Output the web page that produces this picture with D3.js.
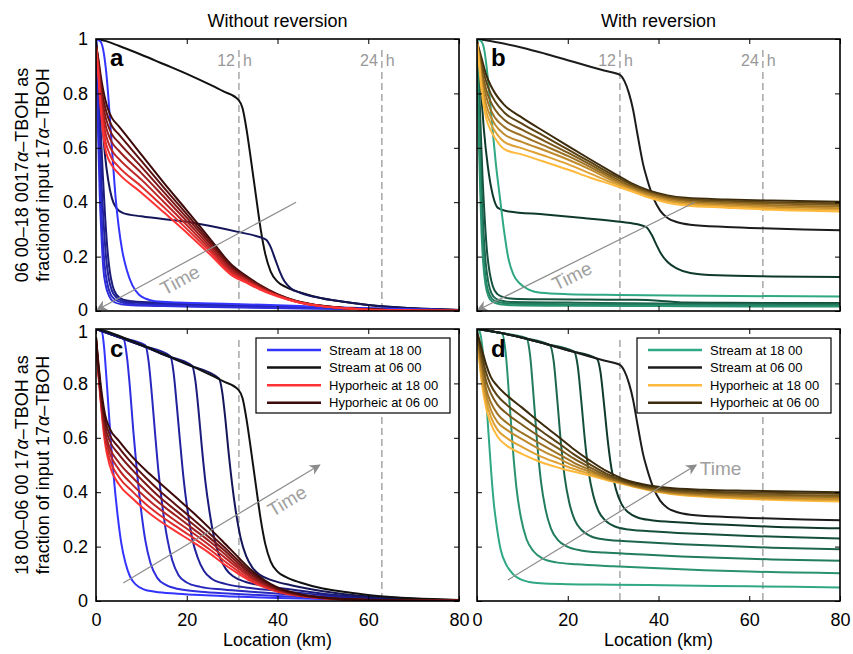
<!DOCTYPE html>
<html>
<head>
<meta charset="utf-8">
<script src="https://cdn.jsdelivr.net/npm/d3@7"></script>
<style>
  body { margin: 0; background: #fff; }
  text { font-family: "Liberation Sans", Arial, Helvetica, sans-serif; }
</style>
</head>
<body>
<svg id="chart" width="853" height="654"></svg>
<script>
const locationTicks = [0, 20, 40, 60, 80];
const fractionTicks = [0, 0.2, 0.4, 0.6, 0.8, 1];
const reversalKm = [31.5, 63];
const reversalLabels = ["12", "24"];
const columnTitles = ["Without reversion", "With reversion"];

// stream at 06 00, shared by a and c (no reversion) and b and d (with reversion)
const streamNoRev0600 = [[0,1],[2,0.993],[5,0.975],[10,0.942],[15,0.907],[20,0.872],[25,0.833],[28,0.808],[31.4,0.776],[32.3,0.745],[33.2,0.665],[34.2,0.55],[35.2,0.43],[36.3,0.3],[37.3,0.21],[38.5,0.145],[40,0.108],[42,0.087],[45,0.068],[50,0.046],[55,0.033],[60,0.022],[65,0.015],[70,0.01],[80,0.004]];
const streamRev0600 = [[0,1],[5,0.986],[10,0.968],[15,0.946],[20,0.922],[25,0.898],[28,0.884],[31.5,0.868],[32.5,0.845],[33.5,0.8],[34.4,0.74],[35.2,0.665],[35.9,0.6],[36.6,0.54],[37.4,0.49],[38.9,0.415],[40.4,0.368],[42,0.342],[44,0.327],[47,0.317],[55,0.309],[63,0.304],[72,0.3],[80,0.297]];

// panel a, ordered 06 00 -> 18 00
const streamA = [
  streamNoRev0600,
  [[0,1],[0.5,0.9],[1,0.78],[1.5,0.67],[2,0.57],[2.7,0.48],[3.5,0.415],[4.5,0.378],[6,0.36],[10,0.348],[20,0.328],[31.5,0.29],[36,0.272],[37.5,0.262],[38.5,0.235],[39.5,0.19],[40.5,0.145],[41.5,0.11],[43,0.083],[45,0.067],[50,0.046],[55,0.033],[60,0.022],[70,0.01],[80,0.004]],
  [[0,1],[0.5,0.86],[1,0.68],[1.5,0.5],[2,0.35],[2.5,0.23],[3,0.15],[3.7,0.09],[4.5,0.06],[6,0.042],[8,0.036],[15,0.03],[25,0.025],[35,0.02],[45,0.015],[60,0.009],[80,0.004]],
  [[0,1],[0.4,0.85],[0.8,0.66],[1.2,0.48],[1.7,0.32],[2.2,0.2],[2.8,0.12],[3.5,0.075],[4.5,0.05],[6,0.036],[8,0.031],[15,0.026],[25,0.021],[35,0.017],[45,0.013],[60,0.008],[80,0.003]],
  [[0,1],[0.3,0.84],[0.6,0.65],[1,0.45],[1.4,0.29],[1.9,0.17],[2.5,0.1],[3.2,0.062],[4.2,0.042],[6,0.03],[8,0.026],[15,0.022],[25,0.018],[35,0.014],[45,0.011],[60,0.007],[80,0.003]],
  [[0,1],[0.2,0.85],[0.5,0.63],[0.8,0.44],[1.2,0.28],[1.6,0.16],[2.2,0.09],[2.9,0.055],[3.8,0.035],[5.5,0.025],[8,0.021],[15,0.018],[25,0.015],[35,0.012],[45,0.009],[60,0.006],[80,0.002]],
  [[0,1],[1,0.99],[1.7,0.95],[2.3,0.87],[2.8,0.77],[3.3,0.65],[3.8,0.53],[4.3,0.42],[5,0.31],[5.8,0.22],[6.8,0.15],[8,0.095],[9.5,0.06],[11,0.045],[13,0.036],[18,0.031],[30,0.026],[40,0.021],[50,0.015],[60,0.01],[70,0.006],[80,0.003]]
];
const hypoA = [
  [[0,0.98],[0.5,0.93],[1,0.87],[1.5,0.82],[2,0.78],[2.7,0.74],[3.5,0.71],[5,0.68],[10,0.575],[15,0.47],[20,0.37],[25,0.268],[30,0.168],[33,0.13],[36,0.097],[40,0.062],[44,0.038],[50,0.019],[55,0.011],[60,0.006],[70,0.002],[80,0.001]],
  [[0,0.98],[0.5,0.92],[1,0.85],[1.5,0.79],[2,0.75],[2.7,0.71],[3.5,0.68],[5,0.65],[10,0.552],[15,0.453],[20,0.356],[25,0.259],[30,0.162],[33,0.126],[36,0.094],[40,0.06],[44,0.037],[50,0.018],[55,0.011],[60,0.006],[70,0.002],[80,0.001]],
  [[0,0.975],[0.5,0.91],[1,0.83],[1.5,0.765],[2,0.72],[2.7,0.68],[3.5,0.65],[5,0.62],[10,0.53],[15,0.436],[20,0.343],[25,0.25],[30,0.156],[33,0.122],[36,0.092],[40,0.059],[44,0.036],[50,0.018],[55,0.01],[60,0.006],[70,0.002],[80,0.001]],
  [[0,0.975],[0.5,0.9],[1,0.81],[1.5,0.74],[2,0.69],[2.7,0.65],[3.5,0.62],[5,0.59],[10,0.507],[15,0.419],[20,0.33],[25,0.24],[30,0.15],[33,0.118],[36,0.089],[40,0.058],[44,0.036],[50,0.018],[55,0.01],[60,0.005],[70,0.002],[80,0.001]],
  [[0,0.97],[0.5,0.89],[1,0.79],[1.5,0.715],[2,0.66],[2.7,0.62],[3.5,0.59],[5,0.56],[10,0.483],[15,0.4],[20,0.316],[25,0.23],[30,0.143],[33,0.114],[36,0.086],[40,0.057],[44,0.035],[50,0.017],[55,0.01],[60,0.005],[70,0.002],[80,0.001]],
  [[0,0.97],[0.5,0.88],[1,0.77],[1.5,0.69],[2,0.63],[2.7,0.59],[3.5,0.56],[5,0.53],[10,0.458],[15,0.381],[20,0.302],[25,0.22],[30,0.137],[33,0.11],[36,0.083],[40,0.055],[44,0.035],[50,0.017],[55,0.01],[60,0.005],[70,0.002],[80,0.001]],
  [[0,0.97],[0.5,0.87],[1,0.75],[1.5,0.665],[2,0.6],[2.7,0.56],[3.5,0.535],[5,0.505],[10,0.435],[15,0.362],[20,0.288],[25,0.21],[30,0.13],[33,0.105],[36,0.08],[40,0.054],[44,0.034],[50,0.017],[55,0.01],[60,0.005],[70,0.002],[80,0.001]]
];

// panel b, ordered 06 00 -> 18 00
const streamB = [
  streamRev0600,
  [[0,1],[0.5,0.9],[1,0.78],[1.5,0.67],[2.4,0.53],[3.5,0.425],[4.7,0.378],[7,0.366],[15,0.355],[23.4,0.342],[31.5,0.328],[36,0.316],[37.4,0.307],[38.5,0.28],[39.5,0.245],[40.5,0.212],[42,0.18],[44,0.157],[47,0.14],[53,0.131],[65,0.127],[80,0.125]],
  [[0,1],[0.4,0.86],[0.8,0.67],[1.2,0.5],[1.7,0.34],[2.2,0.22],[2.8,0.14],[3.5,0.09],[4.5,0.062],[6,0.05],[8,0.045],[15,0.043],[25,0.042],[35,0.041],[40,0.038],[43,0.034],[46,0.031],[55,0.03],[80,0.029]],
  [[0,1],[0.3,0.85],[0.6,0.66],[1,0.46],[1.4,0.3],[1.9,0.18],[2.5,0.105],[3.2,0.065],[4.2,0.045],[6,0.036],[8,0.033],[20,0.031],[40,0.028],[60,0.026],[80,0.025]],
  [[0,1],[0.25,0.85],[0.5,0.65],[0.8,0.46],[1.2,0.29],[1.6,0.17],[2.1,0.1],[2.8,0.058],[3.8,0.038],[5.5,0.03],[8,0.027],[20,0.025],[40,0.023],[60,0.022],[80,0.021]],
  [[0,1],[0.15,0.86],[0.4,0.64],[0.7,0.45],[1,0.29],[1.4,0.17],[1.9,0.095],[2.5,0.055],[3.4,0.034],[5,0.025],[8,0.021],[20,0.019],[40,0.018],[60,0.017],[80,0.017]],
  [[0,1],[1,0.99],[1.6,0.96],[2.1,0.9],[2.6,0.82],[3.2,0.71],[4.1,0.55],[5.1,0.41],[6,0.29],[6.9,0.195],[8,0.135],[9.5,0.1],[11.5,0.078],[14,0.067],[20,0.062],[31.5,0.059],[50,0.056],[80,0.053]]
];
const hypoB = [
  [[0,0.99],[0.5,0.96],[1,0.93],[2,0.87],[3,0.83],[4,0.8],[6,0.758],[10,0.71],[15,0.658],[20,0.607],[25,0.557],[30,0.508],[34,0.47],[38,0.442],[42,0.425],[46,0.416],[55,0.41],[65,0.406],[80,0.402]],
  [[0,0.99],[0.5,0.95],[1,0.91],[2,0.845],[3,0.8],[4,0.77],[6,0.73],[10,0.688],[15,0.641],[20,0.594],[25,0.547],[30,0.5],[34,0.465],[38,0.438],[42,0.421],[46,0.412],[55,0.405],[65,0.4],[80,0.396]],
  [[0,0.99],[0.5,0.94],[1,0.89],[2,0.815],[3,0.77],[4,0.74],[6,0.703],[10,0.666],[15,0.624],[20,0.582],[25,0.538],[30,0.492],[34,0.459],[38,0.434],[42,0.417],[46,0.408],[55,0.4],[65,0.395],[80,0.39]],
  [[0,0.99],[0.5,0.93],[1,0.87],[2,0.79],[3,0.74],[4,0.71],[6,0.677],[10,0.644],[15,0.607],[20,0.57],[25,0.529],[30,0.485],[34,0.454],[38,0.43],[42,0.413],[46,0.403],[55,0.395],[65,0.389],[80,0.384]],
  [[0,0.99],[0.5,0.92],[1,0.85],[2,0.76],[3,0.715],[4,0.685],[6,0.65],[10,0.621],[15,0.59],[20,0.557],[25,0.52],[30,0.478],[34,0.449],[38,0.425],[42,0.408],[46,0.398],[55,0.39],[65,0.383],[80,0.378]],
  [[0,0.99],[0.5,0.91],[1,0.83],[2,0.735],[3,0.69],[4,0.66],[6,0.622],[10,0.598],[15,0.57],[20,0.54],[25,0.505],[30,0.47],[34,0.444],[38,0.42],[42,0.403],[46,0.393],[55,0.384],[65,0.377],[80,0.372]],
  [[0,0.99],[0.5,0.9],[1,0.81],[2,0.71],[3,0.665],[4,0.635],[6,0.595],[10,0.575],[15,0.548],[20,0.52],[25,0.49],[30,0.463],[34,0.44],[38,0.416],[42,0.398],[46,0.388],[55,0.38],[65,0.372],[80,0.366]]
];

// panel c, ordered 18 00 -> 06 00
const streamC = [
  [[0,1],[1.3,0.99],[1.8,0.93],[2.3,0.82],[2.8,0.7],[3.3,0.58],[4,0.44],[4.8,0.31],[5.6,0.21],[6.5,0.14],[7.5,0.09],[8.8,0.06],[10.5,0.043],[13,0.034],[18,0.027],[23,0.022],[30,0.017],[40,0.011],[50,0.007],[60,0.004],[80,0.001]],
  [[0,1],[3,0.985],[6.1,0.963],[6.8,0.9],[7.5,0.78],[8.2,0.63],[9,0.48],[9.9,0.34],[10.9,0.22],[12,0.14],[13.5,0.085],[15.5,0.058],[18.5,0.043],[23,0.034],[30,0.027],[40,0.018],[50,0.011],[60,0.006],[80,0.002]],
  [[0,1],[5,0.97],[10.9,0.94],[11.6,0.88],[12.3,0.76],[13,0.62],[13.8,0.47],[14.7,0.34],[15.7,0.23],[16.8,0.15],[18.2,0.095],[20,0.068],[23,0.052],[28,0.042],[35,0.033],[45,0.021],[55,0.012],[65,0.006],[80,0.002]],
  [[0,1],[5,0.97],[10,0.94],[16.4,0.9],[17.1,0.84],[17.8,0.72],[18.5,0.59],[19.3,0.45],[20.2,0.33],[21.2,0.23],[22.4,0.16],[23.8,0.11],[25.5,0.082],[28.5,0.063],[33,0.05],[40,0.038],[50,0.022],[60,0.011],[70,0.005],[80,0.002]],
  [[0,1],[5,0.97],[10,0.94],[15,0.905],[21.2,0.865],[21.9,0.81],[22.6,0.7],[23.3,0.57],[24.1,0.44],[25,0.33],[26,0.235],[27.2,0.165],[28.6,0.118],[30.3,0.09],[33,0.07],[37,0.056],[43,0.042],[50,0.027],[60,0.013],[70,0.006],[80,0.002]],
  [[0,1],[5,0.97],[10,0.94],[15,0.905],[20,0.87],[27.1,0.818],[27.8,0.77],[28.5,0.67],[29.2,0.55],[30,0.43],[30.9,0.32],[31.9,0.23],[33.1,0.165],[34.5,0.122],[36.2,0.095],[39,0.075],[43,0.058],[50,0.036],[60,0.017],[70,0.007],[80,0.003]],
  streamNoRev0600
];
const hypoC = [
  [[0,0.96],[0.5,0.84],[1,0.74],[1.5,0.65],[2,0.58],[3,0.5],[5,0.43],[8,0.378],[11,0.333],[14,0.295],[17.5,0.257],[21.2,0.218],[25,0.176],[28,0.138],[31.4,0.1],[34,0.074],[37,0.051],[40,0.034],[45,0.018],[50,0.01],[60,0.003],[80,0.001]],
  [[0,0.96],[0.5,0.845],[1,0.748],[1.5,0.662],[2,0.595],[3,0.522],[5,0.457],[8,0.403],[11,0.356],[14,0.316],[17.5,0.276],[21.2,0.235],[25,0.19],[28,0.151],[31.4,0.109],[34,0.08],[37,0.055],[40,0.036],[45,0.019],[50,0.01],[60,0.003],[80,0.001]],
  [[0,0.96],[0.5,0.85],[1,0.755],[1.5,0.675],[2,0.61],[3,0.545],[5,0.485],[8,0.428],[11,0.38],[14,0.338],[17.5,0.295],[21.2,0.252],[25,0.205],[28,0.165],[31.4,0.119],[34,0.087],[37,0.059],[40,0.039],[45,0.02],[50,0.011],[60,0.004],[80,0.001]],
  [[0,0.965],[0.5,0.855],[1,0.76],[1.5,0.685],[2,0.625],[3,0.565],[5,0.51],[8,0.455],[11,0.405],[14,0.36],[17.5,0.315],[21.2,0.268],[25,0.22],[28,0.178],[31.4,0.128],[34,0.093],[37,0.063],[40,0.041],[45,0.021],[50,0.011],[60,0.004],[80,0.001]],
  [[0,0.965],[0.5,0.86],[1,0.77],[1.5,0.7],[2,0.645],[3,0.59],[5,0.54],[8,0.482],[11,0.43],[14,0.382],[17.5,0.334],[21.2,0.285],[25,0.233],[28,0.19],[31.4,0.138],[34,0.1],[37,0.068],[40,0.044],[45,0.022],[50,0.012],[60,0.004],[80,0.001]],
  [[0,0.97],[0.5,0.87],[1,0.785],[1.5,0.715],[2,0.665],[3,0.612],[5,0.565],[8,0.505],[11,0.453],[14,0.405],[17.5,0.355],[21.2,0.303],[25,0.248],[28,0.202],[31.4,0.148],[34,0.108],[37,0.073],[40,0.047],[45,0.024],[50,0.012],[60,0.004],[80,0.001]],
  [[0,0.97],[0.5,0.88],[1,0.8],[1.5,0.735],[2,0.685],[3,0.635],[5,0.59],[8,0.53],[11,0.48],[14,0.435],[17.5,0.383],[21.2,0.328],[25,0.268],[28,0.218],[31.4,0.16],[34,0.117],[37,0.078],[40,0.05],[45,0.025],[50,0.013],[60,0.005],[80,0.001]]
];

// panel d, ordered 18 00 -> 06 00
const streamD = [
  [[0,1],[0.6,0.99],[1.2,0.93],[1.8,0.8],[2.4,0.65],[3.1,0.48],[3.7,0.36],[4.3,0.28],[5.2,0.19],[6.5,0.132],[8,0.098],[9.5,0.08],[11.5,0.07],[14,0.065],[20,0.062],[30,0.06],[45,0.057],[60,0.054],[80,0.05]],
  [[0,1],[3,0.992],[5.5,0.984],[6.3,0.916],[7.1,0.746],[7.9,0.56],[8.7,0.415],[9.7,0.305],[10.9,0.228],[12.5,0.182],[14.5,0.156],[17.5,0.142],[22,0.135],[30,0.128],[40,0.12],[50,0.113],[60,0.108],[70,0.105],[80,0.102]],
  [[0,1],[5,0.986],[10.9,0.966],[11.7,0.903],[12.5,0.746],[13.3,0.573],[14.1,0.439],[15.1,0.337],[16.3,0.266],[17.9,0.223],[19.9,0.2],[22.9,0.186],[28,0.178],[35,0.172],[45,0.164],[55,0.158],[65,0.153],[80,0.148]],
  [[0,1],[5,0.986],[10,0.968],[16.1,0.94],[16.9,0.882],[17.7,0.738],[18.5,0.58],[19.3,0.458],[20.3,0.364],[21.5,0.299],[23.1,0.26],[25.1,0.238],[28.1,0.226],[35,0.218],[45,0.209],[55,0.202],[65,0.196],[80,0.19]],
  [[0,1],[5,0.986],[10,0.968],[15,0.946],[21.4,0.917],[22.2,0.864],[23,0.732],[23.8,0.588],[24.6,0.475],[25.6,0.39],[26.8,0.33],[28.4,0.294],[30.4,0.274],[33.4,0.263],[40,0.255],[50,0.246],[60,0.239],[70,0.234],[80,0.23]],
  [[0,1],[5,0.986],[10,0.968],[15,0.946],[20,0.922],[26.4,0.891],[27.2,0.843],[28,0.723],[28.8,0.592],[29.6,0.49],[30.6,0.412],[31.8,0.358],[33.4,0.325],[35.4,0.307],[38.4,0.297],[45,0.289],[55,0.28],[65,0.273],[80,0.267]],
  streamRev0600
];
const hypoD = [
  [[0,0.98],[1,0.81],[2,0.71],[3,0.655],[4.5,0.605],[6.5,0.572],[10,0.54],[14,0.511],[18,0.49],[21.2,0.476],[25,0.461],[28.5,0.445],[32,0.431],[35,0.418],[38,0.407],[42,0.395],[50,0.383],[60,0.375],[80,0.366]],
  [[0,0.98],[1,0.825],[2,0.735],[3,0.68],[4.5,0.63],[6.5,0.6],[10,0.566],[14,0.532],[18,0.506],[21.2,0.486],[25,0.467],[28.5,0.448],[32,0.433],[35,0.42],[38,0.408],[42,0.397],[50,0.386],[60,0.378],[80,0.371]],
  [[0,0.985],[1,0.85],[2,0.76],[3,0.705],[4.5,0.658],[6.5,0.63],[10,0.594],[14,0.556],[18,0.524],[21.2,0.498],[25,0.474],[28.5,0.451],[32,0.435],[35,0.421],[38,0.41],[42,0.4],[50,0.389],[60,0.382],[80,0.376]],
  [[0,0.985],[1,0.87],[2,0.78],[3,0.732],[4.5,0.688],[6.5,0.656],[10,0.617],[14,0.578],[18,0.54],[21.2,0.51],[25,0.481],[28.5,0.455],[32,0.437],[35,0.423],[38,0.413],[42,0.403],[50,0.393],[60,0.387],[80,0.382]],
  [[0,0.99],[1,0.89],[2,0.81],[3,0.765],[4.5,0.722],[6.5,0.69],[10,0.647],[14,0.602],[18,0.56],[21.2,0.525],[25,0.49],[28.5,0.461],[32,0.44],[35,0.426],[38,0.416],[42,0.406],[50,0.398],[60,0.393],[80,0.388]],
  [[0,0.99],[1,0.91],[2,0.84],[3,0.795],[4.5,0.755],[6.5,0.722],[10,0.677],[14,0.627],[18,0.58],[21.2,0.541],[25,0.501],[28.5,0.468],[32,0.444],[35,0.43],[38,0.42],[42,0.411],[50,0.403],[60,0.399],[80,0.394]],
  [[0,0.99],[1,0.93],[2,0.87],[3,0.825],[4.5,0.79],[6.5,0.757],[10,0.71],[14,0.655],[18,0.603],[21.2,0.56],[25,0.515],[28.5,0.478],[32,0.45],[35,0.435],[38,0.425],[42,0.416],[50,0.409],[60,0.405],[80,0.4]]
];

// "Time" arrows, in km / fraction units: from tail to head, label centre
const timeArrows = {
  a: { from: [44.1, 0.40], to: [0.2, 0.004], label: [18.5, 0.114], rotate: true },
  b: { from: [48.0, 0.40], to: [0.1, 0.003], label: [20.9, 0.129], rotate: true },
  c: { from: [6.0, 0.066], to: [49.3, 0.5], label: [42.1, 0.368], rotate: true },
  d: { from: [6.8, 0.077], to: [48.3, 0.5], label: [49.1, 0.463], rotate: false }
};

const legendLabels = ["Stream at 18 00", "Stream at 06 00", "Hyporheic at 18 00", "Hyporheic at 06 00"];

// colour by time of day: 0 = 06 00, 1 = 18 00
const blueColor = d3.scaleLinear().domain([0, 1/6, 1]).range(["#111111", "#15155a", "#3434ff"]);
const greenColor = d3.scaleLinear().domain([0, 1/6, 1]).range(["#1c1c1c", "#0f3a2b", "#2fa883"]);
const redColor = d3.scaleLinear().domain([0, 1]).range(["#3d0a0a", "#ff3333"]);
const goldColor = d3.scaleLinear().domain([0, 1]).range(["#3b2b0c", "#ffb93c"]);

const W = 363, H = 272;
const font = '"Liberation Sans", Arial, Helvetica, sans-serif';
const svg = d3.select("#chart");

const x = d3.scaleLinear().domain([0, 80]).range([0, W]);
const y = d3.scaleLinear().domain([0, 1]).range([H, 0]);
const line = d3.line().x(d => x(d[0])).y(d => y(d[1])).curve(d3.curveMonotoneX);

const panels = [
  { id: "a", left: 96, top: 39, stream: streamA, hypo: hypoA, sc: blueColor, hc: redColor, morning: true, yLab: true, xLab: false, hours: true },
  { id: "b", left: 477, top: 39, stream: streamB, hypo: hypoB, sc: greenColor, hc: goldColor, morning: true, yLab: false, xLab: false, hours: true },
  { id: "c", left: 96, top: 329, stream: streamC, hypo: hypoC, sc: blueColor, hc: redColor, morning: false, yLab: true, xLab: true, hours: false },
  { id: "d", left: 477, top: 329, stream: streamD, hypo: hypoD, sc: greenColor, hc: goldColor, morning: false, yLab: false, xLab: true, hours: false }
];

svg.append("defs").append("marker")
  .attr("id", "arrowhead")
  .attr("viewBox", "0 0 10 10")
  .attr("refX", 9).attr("refY", 5)
  .attr("markerWidth", 13).attr("markerHeight", 11)
  .attr("markerUnits", "userSpaceOnUse")
  .attr("orient", "auto")
  .append("path").attr("d", "M0,0L10,5L0,10L3,5Z").attr("fill", "#8c8c8c");

panels.forEach(p => {
  const g = svg.append("g").attr("transform", `translate(${p.left},${p.top})`);

  g.append("clipPath").attr("id", "clip-" + p.id)
    .append("rect").attr("width", W).attr("height", H);

  // dashed lines at 12 h and 24 h
  g.selectAll(".rev").data(reversalKm).enter().append("line")
    .attr("x1", d => x(d)).attr("x2", d => x(d))
    .attr("y1", y(0.96)).attr("y2", y(0))
    .attr("stroke", "#999").attr("stroke-width", 1.3)
    .attr("stroke-dasharray", "7,4");

  if (p.hours) {
    reversalKm.forEach((km, i) => {
      g.append("text").attr("x", x(km) - 4).attr("y", y(0.9))
        .attr("text-anchor", "end").attr("font-size", 16).attr("fill", "#999")
        .text(reversalLabels[i]);
      g.append("text").attr("x", x(km) + 4).attr("y", y(0.9))
        .attr("font-size", 16).attr("fill", "#999").text("h");
    });
  }

  const n = p.stream.length;
  const t = i => p.morning ? i / (n - 1) : 1 - i / (n - 1);
  const curves = g.append("g").attr("clip-path", `url(#clip-${p.id})`);

  curves.selectAll(".stream").data(p.stream).enter().append("path")
    .attr("d", line)
    .attr("fill", "none")
    .attr("stroke", (d, i) => p.sc(t(i)))
    .attr("stroke-width", 2);

  const m = p.hypo.length;
  const th = i => p.morning ? i / (m - 1) : 1 - i / (m - 1);
  curves.selectAll(".hypo").data(p.hypo).enter().append("path")
    .attr("d", line)
    .attr("fill", "none")
    .attr("stroke", (d, i) => p.hc(th(i)))
    .attr("stroke-width", 2);

  // time arrow
  const ta = timeArrows[p.id];
  g.append("line")
    .attr("x1", x(ta.from[0])).attr("y1", y(ta.from[1]))
    .attr("x2", x(ta.to[0])).attr("y2", y(ta.to[1]))
    .attr("stroke", "#8c8c8c").attr("stroke-width", 1.2)
    .attr("marker-end", "url(#arrowhead)");
  const lo = ta.from[0] < ta.to[0] ? ta.from : ta.to;
  const hi = ta.from[0] < ta.to[0] ? ta.to : ta.from;
  const ang = Math.atan2(y(hi[1]) - y(lo[1]), x(hi[0]) - x(lo[0])) * 180 / Math.PI;
  const tl = g.append("text")
    .attr("font-size", 19).attr("fill", "#a0a0a0")
    .text("Time");
  if (ta.rotate) {
    tl.attr("text-anchor", "middle").attr("dy", "0.35em")
      .attr("transform", `translate(${x(ta.label[0])},${y(ta.label[1])}) rotate(${ang})`);
  } else {
    tl.attr("x", x(ta.label[0])).attr("y", y(ta.label[1]));
  }

  // axes, ticks inside on all four sides
  const styleAxis = a => {
    a.select(".domain").remove();
    a.attr("font-size", 18).attr("font-family", font);
    a.selectAll("line").attr("stroke", "#000");
    a.selectAll("text").attr("fill", "#000");
  };
  const left = g.append("g").call(d3.axisLeft(y).tickValues(fractionTicks).tickSize(-5).tickPadding(8)
      .tickFormat(p.yLab ? d3.format("~g") : "")).call(styleAxis);
  // keep the "0" of the upper panel and the "1" of the lower panel apart
  left.selectAll(".tick text")
    .attr("dy", d => p.top < 100 && d === 0 ? "0.25em" : (p.top > 100 && d === 1 ? "0.45em" : "0.32em"));
  g.append("g").attr("transform", `translate(${W},0)`)
    .call(d3.axisRight(y).tickValues(fractionTicks).tickSize(-5).tickFormat("")).call(styleAxis);
  g.append("g").call(d3.axisTop(x).tickValues(locationTicks).tickSize(-5).tickFormat("")).call(styleAxis);
  g.append("g").attr("transform", `translate(0,${H})`)
    .call(d3.axisBottom(x).tickValues(locationTicks).tickSize(-5).tickPadding(12)
      .tickFormat(p.xLab ? d3.format("d") : "")).call(styleAxis);

  g.append("rect").attr("width", W).attr("height", H)
    .attr("fill", "none").attr("stroke", "#000").attr("stroke-width", 1.6);

  g.append("text").attr("x", 14).attr("y", p.hours ? 27 : 28)
    .attr("font-size", 24).attr("font-weight", "bold").text(p.id);

  if (p.xLab) {
    g.append("text").attr("x", W / 2).attr("y", H + 45)
      .attr("text-anchor", "middle").attr("font-size", 18).text("Location (km)");

    // legend
    const lg = g.append("g").attr("transform", "translate(160,9)");
    lg.append("rect").attr("width", 194).attr("height", 75)
      .attr("fill", "#fff").attr("stroke", "#000").attr("stroke-width", 1.2);
    const legendColors = [p.sc(1), p.sc(0), p.hc(1), p.hc(0)];
    legendLabels.forEach((lab, i) => {
      const ly = 12 + i * 17.6;
      lg.append("line").attr("x1", 11).attr("x2", 65).attr("y1", ly).attr("y2", ly)
        .attr("stroke", legendColors[i]).attr("stroke-width", 2.5);
      lg.append("text").attr("x", 73).attr("y", ly).attr("dy", "0.35em")
        .attr("font-size", 13).text(lab);
    });
  }
});

// column titles
columnTitles.forEach((tt, i) => {
  svg.append("text").attr("x", panels[i].left + W / 2).attr("y", 27)
    .attr("text-anchor", "middle").attr("font-size", 18).text(tt);
});

// y-axis labels
const yLabels = [
  { cy: 39 + H / 2, lines: [["06 00–18 0017", "α", "–TBOH as"], ["fractionof input 17", "α", "–TBOH"]] },
  { cy: 329 + H / 2, lines: [["18 00–06 00 17", "α", "–TBOH as"], ["fraction of input 17", "α", "–TBOH"]] }
];
yLabels.forEach(yl => {
  yl.lines.forEach((parts, j) => {
    const tx = svg.append("text")
      .attr("transform", `translate(${j === 0 ? 28 : 49},${yl.cy}) rotate(-90)`)
      .attr("text-anchor", "middle").attr("font-size", 18);
    parts.forEach((s, k) => {
      const ts = tx.append("tspan").text(s);
      if (k === 1) ts.attr("font-style", "italic");
    });
  });
});
</script>
</body>
</html>
